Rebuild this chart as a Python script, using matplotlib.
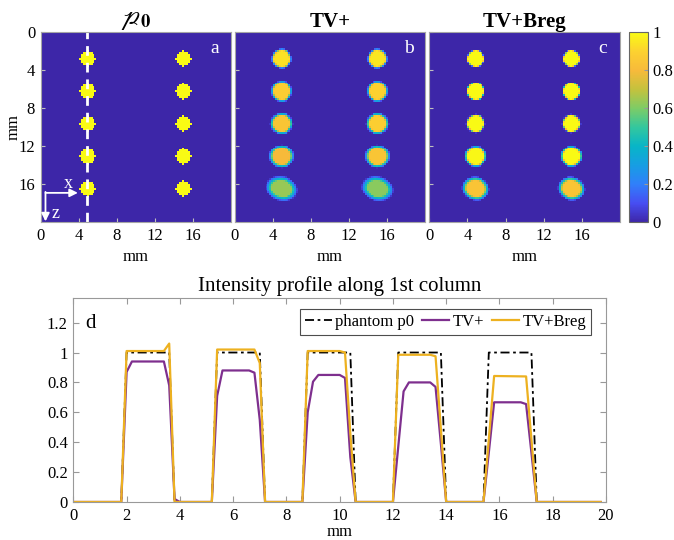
import matplotlib as mpl
import matplotlib.pyplot as plt
import numpy as np
from matplotlib.colors import LinearSegmentedColormap
from matplotlib.ticker import FormatStrFormatter

plt.rcParams['font.family'] = ['Liberation Serif', 'DejaVu Serif']
plt.rcParams['mathtext.fontset'] = 'stix'

# parula-like colormap (MATLAB default)
parula_pts = [(0.2422, 0.1504, 0.6603), (0.2780, 0.3050, 0.9500),
              (0.1900, 0.5000, 0.9800), (0.0900, 0.6200, 0.8900),
              (0.0300, 0.7100, 0.7800), (0.2000, 0.7800, 0.6200),
              (0.4900, 0.8000, 0.4000), (0.7700, 0.7600, 0.2400),
              (0.9700, 0.7300, 0.2300), (0.9900, 0.8200, 0.1900),
              (0.9769, 0.9839, 0.0805)]
parula = LinearSegmentedColormap.from_list('parula', parula_pts)

# phantom layout [mm]
dot_x = [4.9, 14.9]
dot_z = [2.9, 6.3, 9.7, 13.1, 16.5]
dot_r = 0.81
pix = 0.2
fov = 20.0

# reconstructed peak values, [left column, right column], top -> bottom
p0_amp = [[1.0, 1.0, 1.0, 1.0, 1.0], [1.0, 1.0, 1.0, 1.0, 1.0]]
tv_amp = [[0.94, 0.88, 0.85, 0.80, 0.64], [0.95, 0.90, 0.89, 0.85, 0.62]]
breg_amp = [[1.0, 1.0, 1.0, 0.99, 0.84], [1.0, 1.0, 1.0, 1.0, 0.85]]
# edge blur [mm], horizontal stretch and tilt [deg] per row
p0_blur = [0.0, 0.0, 0.0, 0.0, 0.0]
tv_blur = [0.25, 0.3, 0.35, 0.4, 0.5]
breg_blur = [0.1, 0.15, 0.2, 0.3, 0.45]
tv_stretch = [1.0, 1.0, 1.05, 1.1, 1.3]
breg_stretch = [1.0, 1.0, 1.0, 1.05, 1.15]
tilt = [0, 0, 0, 0, 15]

# intensity profile along 1st column
ph_x = [0, 1.8, 2.0, 3.6, 3.8, 5.2, 5.4, 7.0, 7.2, 8.6, 8.8, 10.4, 10.6,
        12.0, 12.2, 13.8, 14.0, 15.4, 15.6, 17.2, 17.4, 19.8]
ph_y = [0, 0, 1, 1, 0, 0, 1, 1, 0, 0, 1, 1, 0, 0, 1, 1, 0, 0, 1, 1, 0, 0]
tv_x = [0, 1.8, 2.0, 2.2, 3.4, 3.6, 3.8, 4.0, 5.2, 5.4, 5.6, 6.6, 6.8, 7.0,
        7.2, 8.6, 8.8, 9.0, 9.2, 10.0, 10.2, 10.4, 10.6, 12.0, 12.2, 12.4,
        12.6, 13.4, 13.6, 13.8, 14.0, 15.4, 15.6, 15.8, 16.8, 17.0, 17.2,
        17.4, 19.8]
tv_y = [0, 0, 0.87, 0.94, 0.94, 0.78, 0.02, 0, 0, 0.71, 0.88, 0.88, 0.865,
        0.55, 0, 0, 0.60, 0.805, 0.85, 0.85, 0.83, 0.30, 0, 0, 0.37, 0.74,
        0.80, 0.80, 0.77, 0.39, 0, 0, 0.33, 0.667, 0.667, 0.655, 0.33, 0, 0]
breg_x = [0, 1.8, 2.0, 3.4, 3.6, 3.8, 5.2, 5.4, 6.8, 7.0, 7.2, 8.6, 8.8,
          10.0, 10.2, 10.4, 10.6, 12.0, 12.2, 13.4, 13.6, 13.8, 14.0, 15.4,
          15.6, 15.8, 17.0, 17.2, 17.4, 19.8]
breg_y = [0, 0, 1.01, 1.01, 1.06, 0, 0, 1.02, 1.02, 0.93, 0, 0, 1.01, 1.01,
          1.0, 0.46, 0, 0, 0.985, 0.985, 0.975, 0.49, 0, 0, 0.42, 0.843,
          0.84, 0.42, 0, 0]


def make_image(amp, blur, stretch):
    c = np.arange(pix / 2, fov, pix)
    X, Z = np.meshgrid(c, c)
    img = np.zeros_like(X)
    for i, cx in enumerate(dot_x):
        for j, cz in enumerate(dot_z):
            a = np.deg2rad(tilt[j]) if blur[j] > 0 else 0.0
            dx, dz = X - cx, Z - cz
            u = (dx * np.cos(a) + dz * np.sin(a)) / stretch[j]
            v = -dx * np.sin(a) + dz * np.cos(a)
            d = np.sqrt(u**2 + v**2)
            if blur[j] == 0:
                val = amp[i][j] * (d <= dot_r)
            else:
                val = amp[i][j] * np.clip((dot_r + blur[j] - d) / blur[j], 0, 1)
            img = np.maximum(img, val)
    return img


images = [make_image(p0_amp, p0_blur, [1] * 5),
          make_image(tv_amp, tv_blur, tv_stretch),
          make_image(breg_amp, breg_blur, breg_stretch)]
titles = [r'$\mathscr{p}_{\mathbf{0}}$', 'TV+', 'TV+Breg']
letters = ['a', 'b', 'c']
lefts = [0.0604, 0.3482, 0.6369]

fig = plt.figure(figsize=(6.74, 5.4), dpi=100)

for k in range(3):
    ax = fig.add_axes([lefts[k], 0.5883, 0.2828, 0.3519])
    im = ax.imshow(images[k], cmap=parula, vmin=0, vmax=1,
                   extent=(0, fov, fov, 0), interpolation='nearest',
                   aspect='auto')
    ax.set_xticks([0, 4, 8, 12, 16])
    ax.set_yticks([0, 4, 8, 12, 16])
    ax.tick_params(direction='in', length=3, color='0.75', labelsize=12,
                   pad=4)
    for s in ax.spines.values():
        s.set_color('0.65')
    ax.set_xlabel('mm', fontsize=12, labelpad=4)
    if k == 0:
        ax.set_ylabel('mm', fontsize=12, labelpad=-2)
        ax.set_title(titles[k], fontsize=19, fontweight='bold', pad=3,
                     math_fontfamily='stix')
        ax.axvline(dot_x[0], color='white', lw=2, ls=(0, (3.5, 2.5)))
        ax.annotate('', xy=(3.9, 16.9), xytext=(0.5, 16.9),
                    arrowprops=dict(arrowstyle='-|>', color='white', lw=1.3,
                                    mutation_scale=12, shrinkA=0, shrinkB=0))
        ax.annotate('', xy=(0.5, 19.9), xytext=(0.5, 16.8),
                    arrowprops=dict(arrowstyle='-|>', color='white', lw=1.3,
                                    mutation_scale=12, shrinkA=0, shrinkB=0))
        ax.text(2.9, 15.9, 'x', color='white', fontsize=13, ha='center',
                va='center')
        ax.text(1.6, 19.1, 'z', color='white', fontsize=13, ha='center',
                va='center')
    else:
        ax.set_yticklabels([])
        ax.set_title(titles[k], fontsize=15, fontweight='bold', pad=4)
    ax.text(0.912, 0.915, letters[k], transform=ax.transAxes, color='white',
            fontsize=14, ha='center', va='center')

cax = fig.add_axes([0.9337, 0.5883, 0.0277, 0.3519])
cb = fig.colorbar(im, cax=cax, ticks=[0, 0.2, 0.4, 0.6, 0.8, 1])
cb.ax.yaxis.set_major_formatter(FormatStrFormatter('%g'))
cb.ax.tick_params(direction='in', length=3, color='0.6', labelsize=12)
cb.outline.set_edgecolor('0.4')

# profile plot
ax = fig.add_axes([0.1088, 0.0704, 0.7903, 0.3778])
ax.plot(ph_x, ph_y, color='black', lw=1.3, ls=(0, (5, 2, 1.5, 2)),
        label='phantom p0')
ax.plot(tv_x, tv_y, color='#7E2F8E', lw=1.6, label='TV+')
ax.plot(breg_x, breg_y, color='#EDB120', lw=1.6, label='TV+Breg')
ax.set_xlim(0, 20)
ax.set_ylim(0, 1.365)
ax.set_xticks(np.arange(0, 21, 2))
ax.set_yticks([0, 0.2, 0.4, 0.6, 0.8, 1.0, 1.2])
ax.yaxis.set_major_formatter(FormatStrFormatter('%g'))
ax.tick_params(direction='in', length=4, color='0.6', labelsize=12,
               top=True, right=True, pad=4)
for s in ax.spines.values():
    s.set_color('0.6')
ax.set_xlabel('mm', fontsize=12, labelpad=0)
ax.set_title('Intensity profile along 1st column', fontsize=15, pad=5)
ax.text(0.022, 0.873, 'd', transform=ax.transAxes, fontsize=15,
        ha='left', va='center')
leg = ax.legend(ncol=3, loc='upper right', bbox_to_anchor=(0.972, 0.946),
                borderaxespad=0, fontsize=12, handlelength=1.6,
                handletextpad=0.2, columnspacing=0.5, fancybox=False,
                framealpha=1, edgecolor='0.3', borderpad=0.3)
leg.get_frame().set_linewidth(0.8)

fig.savefig('out.png', dpi=100)
